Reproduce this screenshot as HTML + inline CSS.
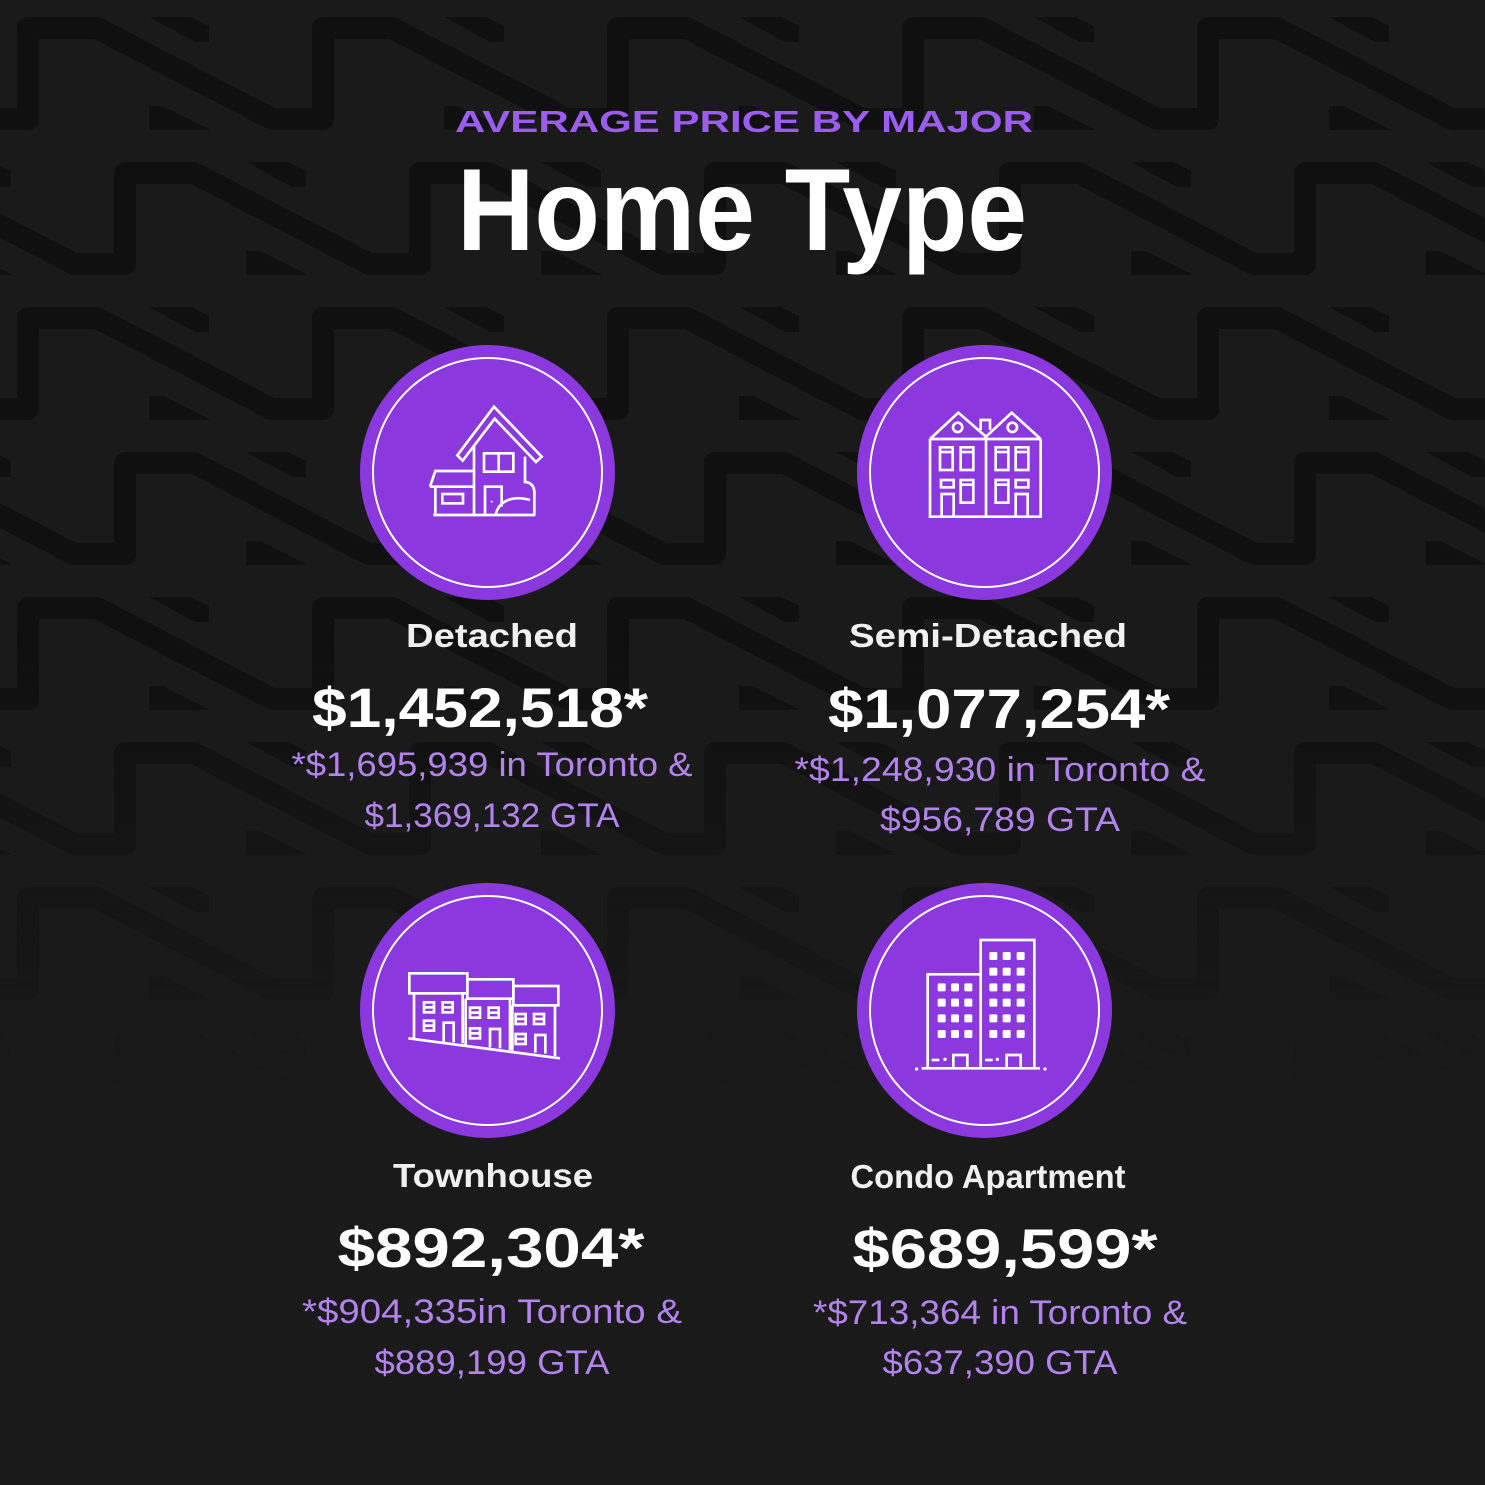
<!DOCTYPE html>
<html>
<head>
<meta charset="utf-8">
<style>
  html, body { margin: 0; padding: 0; background: #1a1a1a; }
  body { width: 1485px; height: 1485px; overflow: hidden; }
  svg { display: block; }
  .b { font-family: "Liberation Sans", Arial, sans-serif; font-weight: 700; }
  .r { font-family: "Liberation Sans", Arial, sans-serif; font-weight: 400; }
</style>
</head>
<body>
<svg width="1485" height="1485" viewBox="0 0 1485 1485" xmlns="http://www.w3.org/2000/svg">
  <defs>
    <g id="unit">
      <path d="M11,102 L11,11 L80,11 L255,102 L306,102" fill="none" stroke="#101010" stroke-width="22" stroke-linejoin="round" stroke-linecap="round"/>
      <polygon points="132,0 174,0 192,9 192,25 178,25" fill="#101010"/>
      <polygon points="132,89 146,89 192,112 192,113 132,113" fill="#101010"/>
    </g>
    <pattern id="pat" patternUnits="userSpaceOnUse" x="17" y="17" width="295" height="290">
      <use href="#unit" x="-295" y="0"/>
      <use href="#unit" x="0" y="0"/>
      <use href="#unit" x="295" y="0"/>
      <use href="#unit" x="-198" y="145"/>
      <use href="#unit" x="97" y="145"/>
      <use href="#unit" x="392" y="145"/>
    </pattern>
    <linearGradient id="fadeG" x1="0" y1="0" x2="0" y2="1">
      <stop offset="0" stop-color="#fff"/>
      <stop offset="0.42" stop-color="#fff"/>
      <stop offset="0.62" stop-color="#fff" stop-opacity="0.45"/>
      <stop offset="0.73" stop-color="#fff" stop-opacity="0"/>
      <stop offset="1" stop-color="#fff" stop-opacity="0"/>
    </linearGradient>
    <mask id="fade">
      <rect x="0" y="0" width="1485" height="1485" fill="url(#fadeG)"/>
    </mask>
  </defs>

  <rect x="0" y="0" width="1485" height="1485" fill="#1a1a1a"/>
  <rect x="0" y="0" width="1485" height="1485" fill="url(#pat)" mask="url(#fade)"/>

  <!-- Titles -->
  <text class="b" x="744" y="132" font-size="31" fill="#9b5cf0" text-anchor="middle" textLength="578" lengthAdjust="spacingAndGlyphs">AVERAGE PRICE BY MAJOR</text>
  <text class="b" x="742" y="250" font-size="117" fill="#ffffff" text-anchor="middle" textLength="570" lengthAdjust="spacingAndGlyphs">Home Type</text>

  <!-- Circles -->
  <g fill="#8b38df">
    <circle cx="487.5" cy="472.5" r="127.5"/>
    <circle cx="984.5" cy="472.5" r="127.5"/>
    <circle cx="487.5" cy="1010.5" r="127.5"/>
    <circle cx="984.5" cy="1010.5" r="127.5"/>
  </g>
  <g fill="none" stroke="#ffffff" stroke-width="2">
    <circle cx="487.5" cy="472.5" r="114.5"/>
    <circle cx="984.5" cy="472.5" r="114.5"/>
    <circle cx="487.5" cy="1010.5" r="114.5"/>
    <circle cx="984.5" cy="1010.5" r="114.5"/>
  </g>

  <!-- Detached icon -->
  <g transform="translate(350,340) scale(0.33333)" fill="none" stroke="#ffffff" stroke-width="8" stroke-linejoin="miter">
    <path d="M322,346 L432,200 L575,350 L558,366 L434,236 L338,362 Z"/>
    <path d="M372,318 V525"/>
    <path d="M525,350 V430"/>
    <rect x="402" y="340" width="88" height="55"/>
    <path d="M446,340 V395"/>
    <path d="M405,525 V440 H455 V500"/>
    <circle cx="425" cy="485" r="3" fill="#fff" stroke="none"/>
    <path d="M240,440 L256,393 H372"/>
    <path d="M240,440 H372"/>
    <path d="M256,440 V525"/>
    <rect x="277" y="462" width="62" height="28"/>
    <path d="M437,525 C445,482 490,465 540,480"/>
    <path d="M525,425 Q556,430 553,465 V525"/>
    <path d="M250,525 H556"/>
  </g>

  <!-- Semi-detached icon -->
  <g transform="translate(850,340) scale(0.33333)" fill="none" stroke="#ffffff" stroke-width="8">
    <path d="M240,297 L325,218 L408,290 L485,218 L572,297"/>
    <path d="M392,270 V240 H420 V270"/>
    <circle cx="323" cy="262" r="14"/>
    <circle cx="487" cy="262" r="14"/>
    <path d="M240,297 V530 H572 V297"/>
    <path d="M240,297 H572"/>
    <path d="M408,290 V530"/>
    <rect x="270" y="322" width="38" height="68"/><path d="M270,336 H308"/>
    <rect x="332" y="322" width="38" height="68"/><path d="M332,336 H370"/>
    <rect x="437" y="322" width="38" height="68"/><path d="M437,336 H475"/>
    <rect x="497" y="322" width="38" height="68"/><path d="M497,336 H535"/>
    <rect x="273" y="420" width="38" height="22"/>
    <rect x="497" y="420" width="38" height="22"/>
    <rect x="332" y="420" width="38" height="68"/><path d="M332,434 H370"/>
    <rect x="437" y="420" width="38" height="68"/><path d="M437,434 H475"/>
    <path d="M275,530 V462 H311 V530"/>
    <path d="M497,530 V462 H533 V530"/>
  </g>

  <!-- Townhouse icon -->
  <g transform="translate(350,880) scale(0.33333)" fill="none" stroke="#ffffff" stroke-width="8">
    <rect x="178" y="280" width="174" height="60"/>
    <rect x="352" y="298" width="138" height="58"/>
    <rect x="490" y="318" width="135" height="58"/>
    <path d="M192,340 V480"/><path d="M338,340 V490"/>
    <path d="M347,356 V500"/><path d="M480,356 V510"/>
    <path d="M487,376 V512"/><path d="M615,376 V528"/>
    <rect x="222" y="367" width="30" height="30"/><path d="M222,382 H252"/>
    <rect x="278" y="367" width="30" height="30"/><path d="M278,382 H308"/>
    <rect x="222" y="422" width="30" height="30"/><path d="M222,437 H252"/>
    <path d="M281,485 V428 H311 V487"/>
    <rect x="360" y="383" width="30" height="30"/><path d="M360,398 H390"/>
    <rect x="416" y="383" width="30" height="30"/><path d="M416,398 H446"/>
    <rect x="360" y="445" width="30" height="30"/><path d="M360,460 H390"/>
    <path d="M420,502 V447 H450 V505"/>
    <rect x="497" y="402" width="30" height="30"/><path d="M497,417 H527"/>
    <rect x="552" y="402" width="30" height="30"/><path d="M552,417 H582"/>
    <rect x="497" y="462" width="30" height="30"/><path d="M497,477 H527"/>
    <path d="M556,518 V465 H586 V521"/>
    <path d="M175,475 L630,535"/>
  </g>

  <!-- Condo icon -->
  <g transform="translate(850,880) scale(0.33333)" stroke="#ffffff" stroke-width="8" fill="none">
    <path d="M233,565 V283 H392"/>
    <path d="M392,565 V180 H553 V565"/>
    <path d="M310,565 V525 H352 V565"/>
    <path d="M470,565 V525 H512 V565"/>
    <path d="M245,540 H268"/><path d="M405,540 H428"/>
    <path d="M215,565 H570"/>
    <g fill="#ffffff" stroke="none">
      <circle cx="285" cy="538" r="5"/><circle cx="442" cy="538" r="5"/>
      <circle cx="200" cy="567" r="5"/><circle cx="585" cy="567" r="5"/>
      <rect x="263" y="310" width="24" height="24" rx="4"/><rect x="303" y="310" width="24" height="24" rx="4"/><rect x="343" y="310" width="24" height="24" rx="4"/>
      <rect x="263" y="356" width="24" height="24" rx="4"/><rect x="303" y="356" width="24" height="24" rx="4"/><rect x="343" y="356" width="24" height="24" rx="4"/>
      <rect x="263" y="403" width="24" height="24" rx="4"/><rect x="303" y="403" width="24" height="24" rx="4"/><rect x="343" y="403" width="24" height="24" rx="4"/>
      <rect x="263" y="450" width="24" height="24" rx="4"/><rect x="303" y="450" width="24" height="24" rx="4"/><rect x="343" y="450" width="24" height="24" rx="4"/>
      <rect x="418" y="216" width="24" height="24" rx="4"/><rect x="458" y="216" width="24" height="24" rx="4"/><rect x="500" y="216" width="24" height="24" rx="4"/>
      <rect x="418" y="263" width="24" height="24" rx="4"/><rect x="458" y="263" width="24" height="24" rx="4"/><rect x="500" y="263" width="24" height="24" rx="4"/>
      <rect x="418" y="310" width="24" height="24" rx="4"/><rect x="458" y="310" width="24" height="24" rx="4"/><rect x="500" y="310" width="24" height="24" rx="4"/>
      <rect x="418" y="356" width="24" height="24" rx="4"/><rect x="458" y="356" width="24" height="24" rx="4"/><rect x="500" y="356" width="24" height="24" rx="4"/>
      <rect x="418" y="403" width="24" height="24" rx="4"/><rect x="458" y="403" width="24" height="24" rx="4"/><rect x="500" y="403" width="24" height="24" rx="4"/>
      <rect x="418" y="450" width="24" height="24" rx="4"/><rect x="458" y="450" width="24" height="24" rx="4"/><rect x="500" y="450" width="24" height="24" rx="4"/>
    </g>
  </g>

  <!-- Labels -->
  <g class="b" font-size="33" fill="#f0f0f0" text-anchor="middle">
    <text x="492" y="647" textLength="172" lengthAdjust="spacingAndGlyphs">Detached</text>
    <text x="988" y="647" textLength="278" lengthAdjust="spacingAndGlyphs">Semi-Detached</text>
    <text x="493" y="1187" textLength="200" lengthAdjust="spacingAndGlyphs">Townhouse</text>
    <text x="988" y="1188" textLength="275" lengthAdjust="spacingAndGlyphs">Condo Apartment</text>
  </g>

  <!-- Prices -->
  <g class="b" font-size="56" fill="#ffffff" text-anchor="middle">
    <text x="480" y="727" textLength="336" lengthAdjust="spacingAndGlyphs">$1,452,518*</text>
    <text x="999" y="728" textLength="342" lengthAdjust="spacingAndGlyphs">$1,077,254*</text>
    <text x="491" y="1267" textLength="307" lengthAdjust="spacingAndGlyphs">$892,304*</text>
    <text x="1005" y="1268" textLength="305" lengthAdjust="spacingAndGlyphs">$689,599*</text>
  </g>

  <!-- Sub text -->
  <g class="r" font-size="34" fill="#b283ec" text-anchor="middle">
    <text x="492" y="776" textLength="401" lengthAdjust="spacingAndGlyphs">*$1,695,939 in Toronto &amp;</text>
    <text x="492" y="827" textLength="255" lengthAdjust="spacingAndGlyphs">$1,369,132 GTA</text>
    <text x="1000" y="781" textLength="411" lengthAdjust="spacingAndGlyphs">*$1,248,930 in Toronto &amp;</text>
    <text x="1000" y="831" textLength="240" lengthAdjust="spacingAndGlyphs">$956,789 GTA</text>
    <text x="492" y="1323" textLength="380" lengthAdjust="spacingAndGlyphs">*$904,335in Toronto &amp;</text>
    <text x="492" y="1374" textLength="235" lengthAdjust="spacingAndGlyphs">$889,199 GTA</text>
    <text x="1000" y="1324" textLength="374" lengthAdjust="spacingAndGlyphs">*$713,364 in Toronto &amp;</text>
    <text x="1000" y="1374" textLength="235" lengthAdjust="spacingAndGlyphs">$637,390 GTA</text>
  </g>
</svg>
</body>
</html>
